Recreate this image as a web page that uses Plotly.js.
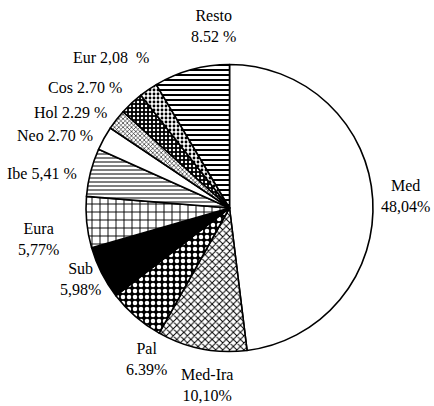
<!DOCTYPE html>
<html>
<head>
<meta charset="utf-8">
<script src="https://cdn.plot.ly/plotly-3.0.1.min.js"></script>
<style>html,body{margin:0;padding:0;background:#fff;}#chart{width:434px;height:406px;}</style>
</head>
<body>
<div id="chart"></div>
<script>
// Data (clockwise from 12 o'clock)
var categories = ["Med", "Med-Ira", "Pal", "Sub", "Eura", "Ibe", "Neo", "Hol", "Cos", "Eur", "Resto"];
var values = [48.04, 10.10, 6.39, 5.98, 5.77, 5.41, 2.70, 2.29, 2.70, 2.08, 8.52];
var labelTexts = ["Med<br>48,04%", "Med-Ira<br>10,10%", "Pal<br>6.39%", "Sub<br>5,98%", "Eura<br>5,77%",
                  "Ibe 5,41 %", "Neo 2.70 %", "Hol 2.29 %", "Cos 2.70 %", "Eur 2,08  %", "Resto<br>8.52 %"];

// Label placement (pixels in the 434x406 frame)
var labelPos = [[405,196],[207,385],[146,359],[80,279],[38,239],[42,173],[55,135],[70,112],[85,87],[111,58],[213,26]];

// Styles
var shapes =   ["",     "x",    ".",    "",     "+",    "-",    "",     "x",    ".",    ".",    "-"];
var fgcols =   ["#000", "#000", "#fff", "#000", "#000", "#000", "#000", "#000", "#fff", "#000", "#fff"];
var bgcols =   ["#fff", "#fff", "#000", "#000", "#fff", "#fff", "#fff", "#fff", "#000", "#fff", "#000"];
var psizes =   [8,      5,      6,      8,      8,      4,      8,      3,      4,      4,      5];
var solid =    [0.3,    0.35,   0.45,   0.3,    0.22,   0.25,   0.3,    0.35,   0.3,    0.4,    0.6];

var W = 434, H = 406;
var annotations = labelTexts.map(function (t, i) {
  return {
    text: t, x: labelPos[i][0] / W, y: 1 - labelPos[i][1] / H,
    xref: "paper", yref: "paper", xanchor: "center", yanchor: "middle",
    showarrow: false, align: "center",
    font: {family: "Liberation Serif", size: 16, color: "#000"}
  };
});

var trace = {
  type: "pie",
  labels: categories,
  values: values,
  sort: false,
  direction: "clockwise",
  rotation: 0,
  textinfo: "none",
  hoverinfo: "label+percent",
  domain: {x: [(229.5 - 143.5) / W, (229.5 + 143.5) / W], y: [1 - (208 + 143.5) / H, 1 - (208 - 143.5) / H]},
  marker: {
    colors: bgcols,
    line: {color: "#000", width: 1.6},
    pattern: {shape: shapes, fgcolor: fgcols, bgcolor: bgcols, size: psizes, solidity: solid}
  }
};

var layout = {
  width: W, height: H,
  margin: {l: 0, r: 0, t: 0, b: 0},
  paper_bgcolor: "#fff",
  showlegend: false,
  font: {family: "Liberation Serif"},
  annotations: annotations
};

Plotly.newPlot("chart", [trace], layout, {displayModeBar: false, staticPlot: true});
</script>
</body>
</html>
